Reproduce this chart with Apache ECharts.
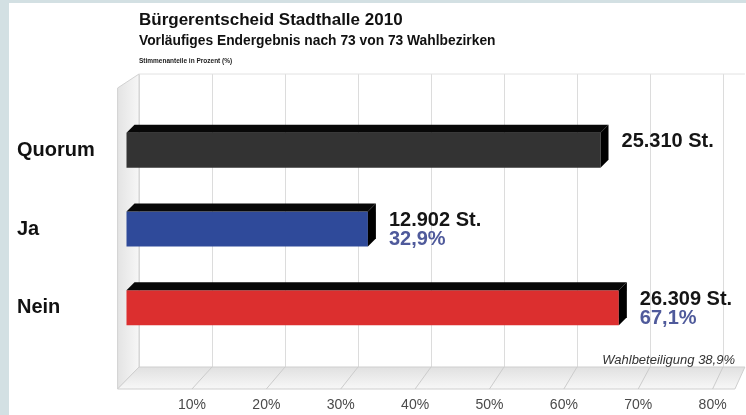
<!DOCTYPE html>
<html>
<head>
<meta charset="utf-8">
<script src="https://cdn.jsdelivr.net/npm/echarts@6/dist/echarts.min.js"></script>
<style>
  html, body { margin: 0; padding: 0; background: #fff; }
  #main { width: 746px; height: 415px; }
</style>
</head>
<body>
<div id="main"></div>
<script>
// values
var categories = ['Quorum', 'Ja', 'Nein'];
var shareValues = [64.6, 32.9, 67.1];      // bar length in %
var votes = [25310, 12902, 26309];
var shownShares = [null, 32.9, 67.1];      // second label line
var barColors = ['#333333', '#2f4a9a', '#dc2f2f'];
var turnout = 38.9;

var FONT = '"Liberation Sans", Arial, sans-serif';
var EDGE = '#d3e0e3';

function fmtVotes(n) {
  return String(n).replace(/\B(?=(\d{3})+(?!\d))/g, '.') + ' St.';
}
function fmtPct(v) {
  return v.toFixed(1).replace('.', ',') + '%';
}

var chart = echarts.init(document.getElementById('main'));

function renderBar(params, api) {
  var v = api.value(0), ci = api.value(1);
  var i = params.dataIndex;
  var p0 = api.coord([0, ci]);
  var p1 = api.coord([v, ci]);
  var h = api.size([0, 1])[1] * 0.445;
  var d = 8;
  var cy = p0[1];
  var top = cy - h / 2, bot = cy + h / 2;
  var x0 = p0[0], x1 = p1[0];
  var kids = [
    { type: 'rect', shape: { x: x0, y: top, width: x1 - x0, height: h },
      style: { fill: barColors[i] } },
    { type: 'polygon', shape: { points: [[x0, top], [x0 + d, top - d], [x1 + d, top - d], [x1, top]] },
      style: { fill: '#080808' } },
    { type: 'polygon', shape: { points: [[x1, top], [x1 + d, top - d], [x1 + d, bot - d], [x1, bot]] },
      style: { fill: '#000' } },
    { type: 'text', style: { x: x1 + 21, y: cy - 8.5, text: fmtVotes(votes[i]),
      font: 'bold 20px ' + FONT, fill: '#151515', verticalAlign: 'middle' } }
  ];
  if (shownShares[i] != null) {
    kids.push({ type: 'text', style: { x: x1 + 21, y: cy + 10.5, text: fmtPct(shownShares[i]),
      font: 'bold 20px ' + FONT, fill: '#4f5a9b', verticalAlign: 'middle' } });
  }
  return { type: 'group', children: kids };
}

var option = {
  animation: false,
  backgroundColor: '#fff',
  grid: [
    // back wall
    { left: 139, top: 74, width: 584, height: 293 },
    // bars
    { left: 126.5, top: 111, width: 587, height: 236 },
    // front edge of floor
    { left: 117.6, top: 88, width: 595, height: 301 }
  ],
  xAxis: [
    { gridIndex: 0, type: 'value', min: 0, max: 80, interval: 10,
      axisLine: { show: false }, axisTick: { show: false }, axisLabel: { show: false },
      splitLine: { show: true, lineStyle: { color: '#dcdcdc', width: 1 } } },
    { gridIndex: 1, type: 'value', min: 0, max: 80, interval: 10, show: false },
    { gridIndex: 2, type: 'value', min: 0, max: 80, interval: 10,
      axisLine: { show: false }, axisTick: { show: false }, splitLine: { show: false },
      axisLabel: { margin: 9, color: '#4a4a4a', fontFamily: FONT, fontSize: 14,
        formatter: function (v) { return v > 0 ? v + '%' : ''; } } }
  ],
  yAxis: [
    { gridIndex: 0, type: 'value', min: 0, max: 1, show: false },
    { gridIndex: 1, type: 'category', inverse: true, data: categories,
      axisLine: { show: false }, axisTick: { show: false }, splitLine: { show: false },
      axisLabel: { align: 'left', margin: 109.5, color: '#111', fontFamily: FONT,
        fontWeight: 'bold', fontSize: 20, padding: [4, 0, 0, 0] } },
    { gridIndex: 2, type: 'value', min: 0, max: 1, show: false }
  ],
  series: [{
    type: 'custom',
    xAxisIndex: 1,
    yAxisIndex: 1,
    renderItem: renderBar,
    encode: { x: 0, y: 1 },
    data: categories.map(function (c, i) { return [shareValues[i], i]; })
  }]
};
chart.setOption(option);

// wall, floor and texts, placed through the axes
function px(g, v, y) { return chart.convertToPixel({ gridIndex: g }, [v, y]); }
var far = 83;
var bb0 = px(0, 0, 0), bt0 = px(0, 0, 1), ft0 = px(2, 0, 1), fb0 = px(2, 0, 0);
var bbF = px(0, far, 0), btF = px(0, far, 1), fbF = px(2, far, 0);

var graphics = [
  { type: 'rect', shape: { x: 0, y: 0, width: 9, height: 415 }, style: { fill: EDGE }, z: 10 },
  { type: 'rect', shape: { x: 0, y: 0, width: 746, height: 3 }, style: { fill: EDGE }, z: 10 },
  { type: 'polygon', shape: { points: [ft0, bt0, bb0, fb0] },
    style: { fill: { type: 'linear', x: 0, y: 0, x2: 1, y2: 0,
      colorStops: [{ offset: 0, color: '#e3e3e3' }, { offset: 1, color: '#f7f7f7' }] },
      stroke: '#d2d2d2', lineWidth: 1 } },
  { type: 'polygon', shape: { points: [bb0, bbF, fbF, fb0] },
    style: { fill: { type: 'linear', x: 0, y: 0, x2: 0, y2: 1,
      colorStops: [{ offset: 0, color: '#e0e0e0' }, { offset: 1, color: '#f8f8f8' }] },
      stroke: '#cfcfcf', lineWidth: 1 } },
  { type: 'line', shape: { x1: bt0[0], y1: bt0[1], x2: btF[0], y2: btF[1] },
    style: { stroke: '#e2e2e2', lineWidth: 1 } }
];
for (var v = 10; v <= 80; v += 10) {
  var a = px(0, v, 0), b = px(2, v, 0);
  graphics.push({ type: 'line', shape: { x1: a[0], y1: a[1], x2: b[0], y2: b[1] },
    style: { stroke: '#cccccc', lineWidth: 1 } });
}
graphics.push(
  { type: 'text', left: 139, top: 12,
    style: { text: 'Bürgerentscheid Stadthalle 2010', font: 'bold 17px ' + FONT, fill: '#111' } },
  { type: 'text', left: 139, top: 34,
    style: { text: 'Vorläufiges Endergebnis nach 73 von 73 Wahlbezirken', font: 'bold 13.8px ' + FONT, fill: '#111' } },
  { type: 'text', left: 139, top: 58,
    style: { text: 'Stimmenanteile in Prozent (%)', font: 'bold 6.5px ' + FONT, fill: '#222' } },
  { type: 'text', right: 11, top: 354,
    style: { text: 'Wahlbeteiligung ' + fmtPct(turnout), font: 'italic 13px ' + FONT, fill: '#333' } }
);
chart.setOption({ graphic: graphics });
</script>
</body>
</html>
